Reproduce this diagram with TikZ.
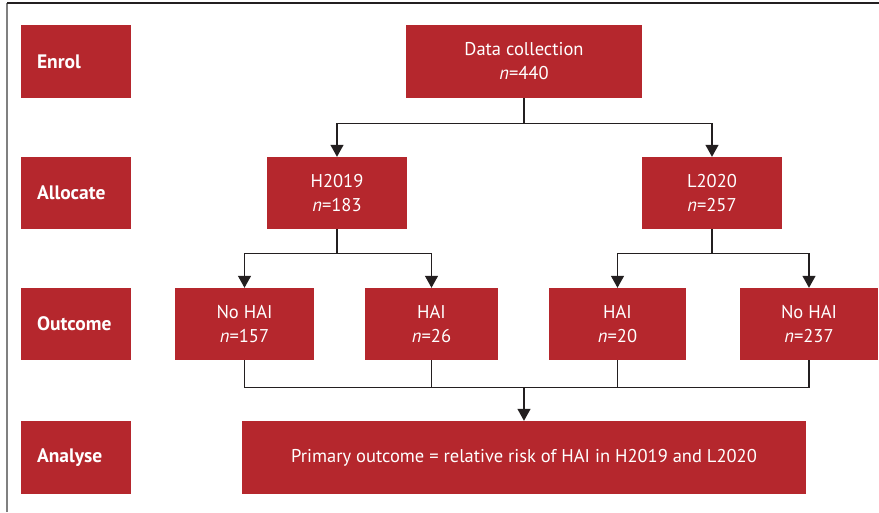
\documentclass[tikz,border=0pt]{standalone}
\usepackage{fontspec}
\setmainfont{PT Sans}
\usetikzlibrary{arrows.meta,positioning}
\definecolor{boxred}{HTML}{B5272D}
\definecolor{linegray}{HTML}{231F20}

\begin{document}
\begin{tikzpicture}[on grid,
    box/.style={fill=boxred, text=white, minimum height=73pt, align=center,
        font=\fontsize{18.5}{24}\selectfont, inner sep=0pt},
    stage/.style={box, minimum width=110pt, text width=78pt, align=left,
        font=\fontsize{19.5}{24}\selectfont\bfseries},
    link/.style={draw=linegray, line width=1.3pt},
    arrow/.style={link, -{Triangle[width=13pt,length=12pt]}}]
    \useasboundingbox (0,0) rectangle (879pt,512pt);
    \draw[gray, line width=1.2pt] (7pt,0) -- (7pt,509pt);
    \draw[linegray, line width=1.2pt] (7pt,509pt) -- (879pt,509pt);
    % flow
    \node[box, minimum width=236pt] (data) at (524pt,450.5pt) {Data collection\\\textit{n}=440};
    \node[box, minimum width=140pt, minimum height=72pt] (h2019) [below left=131.5pt and 187pt of data] {H2019\\\textit{n}=183};
    \node[box, minimum width=140pt, minimum height=72pt] (l2020) [below right=131.5pt and 188pt of data] {L2020\\\textit{n}=257};
    \node[box, minimum width=139pt, minimum height=72pt] (nohaiH) [below left=131pt and 92.5pt of h2019] {No HAI\\\textit{n}=157};
    \node[box, minimum width=133pt, minimum height=72pt] (haiH) [below right=131pt and 94.5pt of h2019] {HAI\\\textit{n}=26};
    \node[box, minimum width=137pt, minimum height=72pt] (haiL) [below left=131pt and 94.5pt of l2020] {HAI\\\textit{n}=20};
    \node[box, minimum width=138pt, minimum height=72pt] (nohaiL) [below right=131pt and 97pt of l2020] {No HAI\\\textit{n}=237};
    \node[box, minimum width=564pt] (primary) [below=396pt of data] {Primary outcome = relative risk of HAI in H2019 and L2020};
    % stages
    \node[stage] (enrol) [left=448pt of data] {Enrol};
    \node[stage, minimum height=72pt] (allocate) [left=261pt of h2019] {Allocate};
    \node[stage, minimum height=72pt] (outcome) [left=168.5pt of nohaiH] {Outcome};
    \node[stage] (analyse) [left=448pt of primary] {Analyse};
    % connectors
    \path (data.south) ++(0,-25pt) coordinate (splitD);
    \path (h2019.south) ++(0,-24pt) coordinate (splitH);
    \path (l2020.south) ++(0,-24pt) coordinate (splitL);
    \path (nohaiH.south) ++(0,-27pt) coordinate (merge);
    \draw[link] (data.south) -- (splitD);
    \draw[arrow] (splitD) -| (h2019.north);
    \draw[arrow] (splitD) -| (l2020.north);
    \draw[link] (h2019.south) -- (splitH);
    \draw[arrow] (splitH) -| (nohaiH.north);
    \draw[arrow] (splitH) -| (haiH.north);
    \draw[link] (l2020.south) -- (splitL);
    \draw[arrow] (splitL) -| (haiL.north);
    \draw[arrow] (splitL) -| (nohaiL.north);
    \draw[link] (nohaiH.south) -- (merge) -| (nohaiL.south);
    \draw[link] (haiH.south) -- (haiH.south |- merge);
    \draw[link] (haiL.south) -- (haiL.south |- merge);
    \draw[arrow] (merge -| primary.north) -- (primary.north);
\end{tikzpicture}
\end{document}
